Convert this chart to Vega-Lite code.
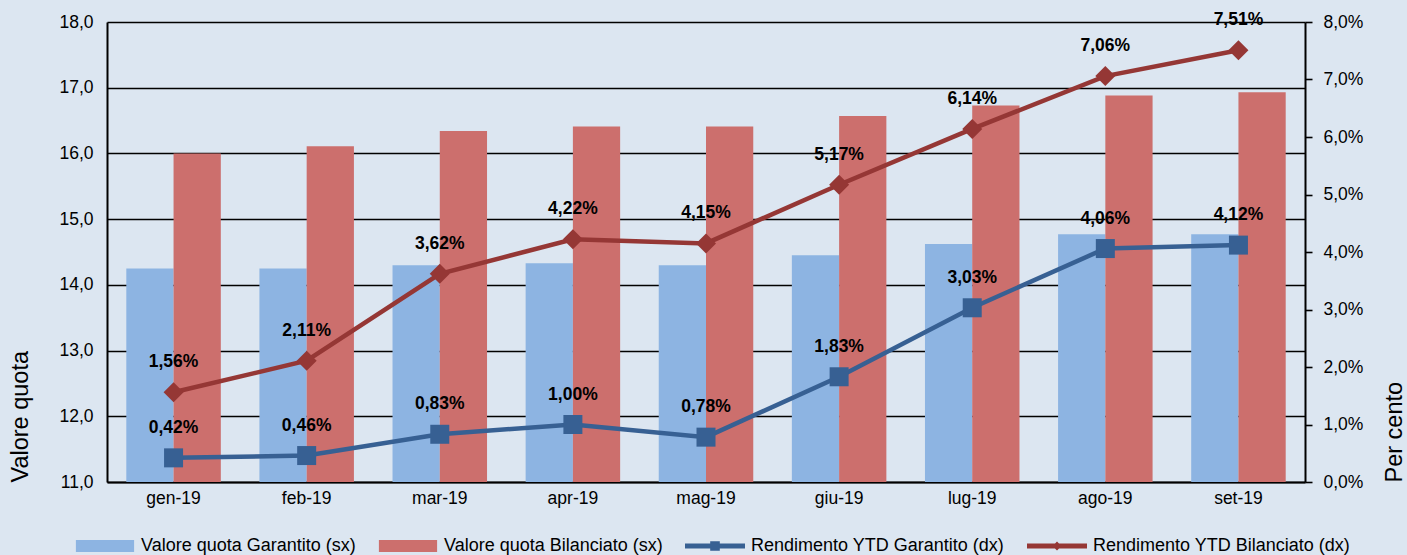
{
  "$schema": "https://vega.github.io/schema/vega-lite/v6.json",
  "width": 1198,
  "height": 460,
  "autosize": {"type": "none"},
  "padding": {"left": 107, "top": 22, "right": 102, "bottom": 73},
  "background": "#dce6f1",
  "config": {
    "view": {"stroke": null},
    "font": "Liberation Sans",
    "locale": {"number": {"decimal": ",", "thousands": ".", "grouping": [3], "currency": ["€", ""]}},
    "axis": {"labelColor": "#000000", "titleColor": "#000000", "domainColor": "#000000", "tickColor": "#000000"}
  },
  "datasets": {
    "quota": [
      {"mese": "gen-19", "serie": "Valore quota Garantito (sx)", "valore": 14.25},
      {"mese": "feb-19", "serie": "Valore quota Garantito (sx)", "valore": 14.25},
      {"mese": "mar-19", "serie": "Valore quota Garantito (sx)", "valore": 14.30},
      {"mese": "apr-19", "serie": "Valore quota Garantito (sx)", "valore": 14.33},
      {"mese": "mag-19", "serie": "Valore quota Garantito (sx)", "valore": 14.30},
      {"mese": "giu-19", "serie": "Valore quota Garantito (sx)", "valore": 14.45},
      {"mese": "lug-19", "serie": "Valore quota Garantito (sx)", "valore": 14.62},
      {"mese": "ago-19", "serie": "Valore quota Garantito (sx)", "valore": 14.77},
      {"mese": "set-19", "serie": "Valore quota Garantito (sx)", "valore": 14.77},
      {"mese": "gen-19", "serie": "Valore quota Bilanciato (sx)", "valore": 16.00},
      {"mese": "feb-19", "serie": "Valore quota Bilanciato (sx)", "valore": 16.11},
      {"mese": "mar-19", "serie": "Valore quota Bilanciato (sx)", "valore": 16.34},
      {"mese": "apr-19", "serie": "Valore quota Bilanciato (sx)", "valore": 16.41},
      {"mese": "mag-19", "serie": "Valore quota Bilanciato (sx)", "valore": 16.41},
      {"mese": "giu-19", "serie": "Valore quota Bilanciato (sx)", "valore": 16.57},
      {"mese": "lug-19", "serie": "Valore quota Bilanciato (sx)", "valore": 16.73},
      {"mese": "ago-19", "serie": "Valore quota Bilanciato (sx)", "valore": 16.88},
      {"mese": "set-19", "serie": "Valore quota Bilanciato (sx)", "valore": 16.93}
    ],
    "rend": [
      {"mese": "gen-19", "serie": "Rendimento YTD Garantito (dx)", "rend": 0.0042},
      {"mese": "feb-19", "serie": "Rendimento YTD Garantito (dx)", "rend": 0.0046},
      {"mese": "mar-19", "serie": "Rendimento YTD Garantito (dx)", "rend": 0.0083},
      {"mese": "apr-19", "serie": "Rendimento YTD Garantito (dx)", "rend": 0.0100},
      {"mese": "mag-19", "serie": "Rendimento YTD Garantito (dx)", "rend": 0.0078},
      {"mese": "giu-19", "serie": "Rendimento YTD Garantito (dx)", "rend": 0.0183},
      {"mese": "lug-19", "serie": "Rendimento YTD Garantito (dx)", "rend": 0.0303},
      {"mese": "ago-19", "serie": "Rendimento YTD Garantito (dx)", "rend": 0.0406},
      {"mese": "set-19", "serie": "Rendimento YTD Garantito (dx)", "rend": 0.0412},
      {"mese": "gen-19", "serie": "Rendimento YTD Bilanciato (dx)", "rend": 0.0156},
      {"mese": "feb-19", "serie": "Rendimento YTD Bilanciato (dx)", "rend": 0.0211},
      {"mese": "mar-19", "serie": "Rendimento YTD Bilanciato (dx)", "rend": 0.0362},
      {"mese": "apr-19", "serie": "Rendimento YTD Bilanciato (dx)", "rend": 0.0422},
      {"mese": "mag-19", "serie": "Rendimento YTD Bilanciato (dx)", "rend": 0.0415},
      {"mese": "giu-19", "serie": "Rendimento YTD Bilanciato (dx)", "rend": 0.0517},
      {"mese": "lug-19", "serie": "Rendimento YTD Bilanciato (dx)", "rend": 0.0614},
      {"mese": "ago-19", "serie": "Rendimento YTD Bilanciato (dx)", "rend": 0.0706},
      {"mese": "set-19", "serie": "Rendimento YTD Bilanciato (dx)", "rend": 0.0751}
    ]
  },
  "encoding": {
    "x": {
      "field": "mese", "type": "nominal",
      "sort": ["gen-19", "feb-19", "mar-19", "apr-19", "mag-19", "giu-19", "lug-19", "ago-19", "set-19"],
      "scale": {"paddingInner": 0.29, "paddingOuter": 0.145},
      "axis": {"title": null, "labelAngle": 0, "labelFontSize": 17.5, "labelPadding": 7, "ticks": false, "domain": true, "domainWidth": 2, "grid": false}
    },
    "color": {
      "field": "serie", "type": "nominal",
      "scale": {
        "domain": ["Valore quota Garantito (sx)", "Valore quota Bilanciato (sx)", "Rendimento YTD Garantito (dx)", "Rendimento YTD Bilanciato (dx)"],
        "range": ["#8db4e2", "#cc6f6d", "#376093", "#953735"]
      },
      "legend": {
        "title": null, "orient": "none", "legendX": -32, "legendY": 494, "direction": "horizontal",
        "labelFontSize": 18, "labelColor": "#000000", "labelLimit": 500, "symbolSize": 3600, "labelOffset": 6,
        "columnPadding": 22,
        "encode": {
          "symbols": {
            "update": {
              "shape": {"signal": "indexof(['Valore quota Garantito (sx)','Valore quota Bilanciato (sx)'], datum.value) >= 0 ? 'M-0.97,-0.2H0.97V0.2H-0.97Z' : (datum.value == 'Rendimento YTD Garantito (dx)' ? 'M-1,-0.085H1V0.085H-1Z M-0.16,-0.16H0.16V0.16H-0.16Z' : 'M-1,-0.085H1V0.085H-1Z M0,-0.15L0.15,0L0,0.15L-0.15,0Z')"},
              "fill": {"signal": "scale('color', datum.value)"},
              "stroke": {"value": "transparent"},
              "strokeWidth": {"value": 0},
              "opacity": {"value": 1}
            }
          }
        }
      }
    }
  },
  "layer": [
    {
      "data": {"name": "quota"},
      "mark": {"type": "bar"},
      "encoding": {
        "xOffset": {"field": "serie", "sort": ["Valore quota Garantito (sx)", "Valore quota Bilanciato (sx)"], "scale": {"paddingInner": 0, "paddingOuter": 0}},
        "y": {
          "field": "valore", "type": "quantitative",
          "scale": {"domain": [11, 18], "nice": false, "zero": false},
          "axis": {
            "title": "Valore quota", "titleFontSize": 23.5, "titleFontWeight": "normal", "titleAnchor": "start", "titlePadding": 26,
            "values": [11, 12, 13, 14, 15, 16, 17, 18], "format": ".1f",
            "labelFontSize": 17.5, "labelPadding": 14, "ticks": false, "domainWidth": 2,
            "grid": true, "gridColor": "#000000", "gridWidth": 1.6, "gridOpacity": 1
          }
        },
        "y2": {"datum": 11}
      }
    },
    {
      "data": {"name": "rend"},
      "encoding": {
        "y": {
          "field": "rend", "type": "quantitative",
          "scale": {"domain": [0, 0.08], "nice": false},
          "axis": {
            "orient": "right", "title": "Per cento", "titleFontSize": 23.5, "titleFontWeight": "normal", "titleAngle": 270, "titleAnchor": "start", "titlePadding": 44,
            "values": [0, 0.01, 0.02, 0.03, 0.04, 0.05, 0.06, 0.07, 0.08], "format": ".1%",
            "labelFontSize": 17.5, "labelPadding": 11, "ticks": true, "tickSize": 7, "tickWidth": 1.6, "domainWidth": 2, "grid": false
          }
        }
      },
      "layer": [
        {"mark": {"type": "line", "strokeWidth": 4.5}},
        {
          "mark": {"type": "point", "filled": true, "opacity": 1},
          "encoding": {
            "shape": {"field": "serie", "type": "nominal", "scale": {"domain": ["Rendimento YTD Garantito (dx)", "Rendimento YTD Bilanciato (dx)"], "range": ["square", "diamond"]}, "legend": null},
            "size": {"field": "serie", "type": "nominal", "scale": {"domain": ["Rendimento YTD Garantito (dx)", "Rendimento YTD Bilanciato (dx)"], "range": [361, 400]}, "legend": null}
          }
        },
        {
          "mark": {"type": "text", "fontWeight": "bold", "fontSize": 17.5, "dy": -30, "color": "#000000"},
          "encoding": {
            "text": {"field": "rend", "type": "quantitative", "format": ".2%"},
            "color": {"value": "#000000"}
          }
        }
      ]
    }
  ],
  "resolve": {"scale": {"y": "independent"}}
}
